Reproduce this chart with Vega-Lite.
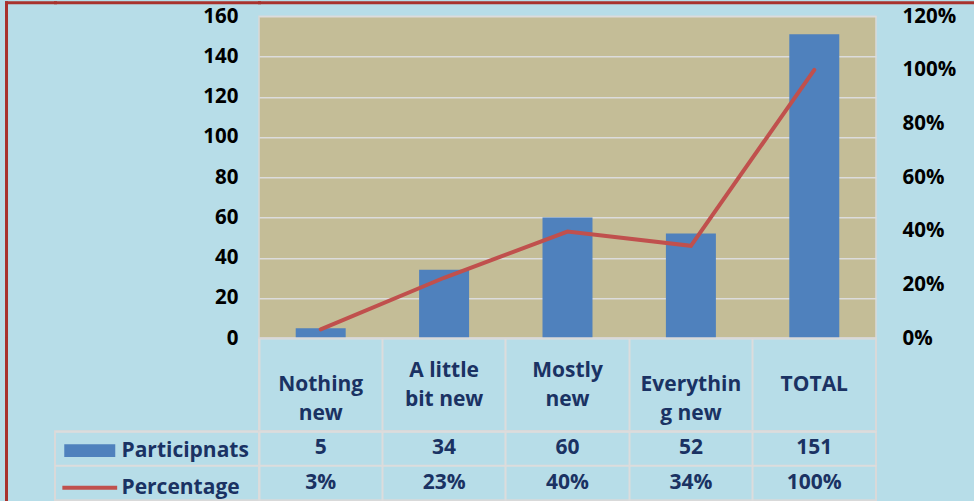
{
  "$schema": "https://vega.github.io/schema/vega-lite/v6.json",
  "background": "#b7dde8",
  "padding": {"left": 3, "top": 2.2, "right": 0, "bottom": 0},
  "config": {
    "view": {"stroke": "#d9d9d9", "strokeWidth": 2},
    "font": "Open Sans",
    "axis": {"labelFont": "Open Sans", "labelFontWeight": "bold", "labelFontSize": 20.5, "labelColor": "#000000", "ticks": false, "domain": false, "title": null}
  },
  "datasets": {
    "survey": [
      {"category": "Nothing new", "label": ["Nothing", "new"], "participants": 5, "percentage": 0.0331},
      {"category": "A little bit new", "label": ["\u2002\u2002A little", "bit new"], "participants": 34, "percentage": 0.2252},
      {"category": "Mostly new", "label": ["\u2002\u2002\u2002Mostly", "new"], "participants": 60, "percentage": 0.3974},
      {"category": "Everything new", "label": ["Everythin", "g new"], "participants": 52, "percentage": 0.3444},
      {"category": "TOTAL", "label": ["TOTAL"], "participants": 151, "percentage": 1.0}
    ],
    "series": [
      {"series": "Participnats"},
      {"series": "Percentage"}
    ],
    "frame": [{"edge": 0}]
  },
  "columns": 3,
  "spacing": 0,
  "bounds": "flush",
  "align": "each",
  "resolve": {"scale": {"x": "independent", "y": "independent", "color": "independent", "shape": "independent"}},
  "concat": [
    {
      "data": {"name": "frame"},
      "width": 49, "height": 13.3,
      "view": {"stroke": null},
      "mark": {"type": "point", "opacity": 0},
      "encoding": {
        "x": {"field": "edge", "type": "quantitative", "scale": {"domain": [0, 1], "padding": 0, "nice": false, "zero": false}, "axis": {"orient": "top", "labels": false, "grid": false, "domain": true, "domainColor": "#a8322d", "domainWidth": 3, "domainCap": "square"}},
        "y": {"field": "edge", "type": "quantitative", "scale": {"domain": [0, 1], "padding": 0, "nice": false, "zero": false}, "axis": {"orient": "left", "labels": false, "grid": false, "domain": true, "domainColor": "#a8322d", "domainWidth": 3, "domainCap": "square"}}
      }
    },
    {
      "data": {"name": "frame"},
      "width": 204, "height": 13.3,
      "view": {"stroke": null},
      "mark": {"type": "point", "opacity": 0},
      "encoding": {
        "x": {"field": "edge", "type": "quantitative", "scale": {"domain": [0, 1], "padding": 0, "nice": false, "zero": false}, "axis": {"orient": "top", "labels": false, "grid": false, "domain": true, "domainColor": "#a8322d", "domainWidth": 3, "domainCap": "square"}}
      }
    },
    {
      "data": {"name": "frame"},
      "width": 715, "height": 13.3,
      "view": {"stroke": null},
      "mark": {"type": "point", "opacity": 0},
      "encoding": {
        "x": {"field": "edge", "type": "quantitative", "scale": {"domain": [0, 1], "padding": 0, "nice": false, "zero": false}, "axis": {"orient": "top", "labels": false, "grid": false, "domain": true, "domainColor": "#a8322d", "domainWidth": 3, "domainCap": "square"}}
      }
    },
    {
      "data": {"name": "frame"},
      "width": 49, "height": 322,
      "view": {"stroke": null},
      "mark": {"type": "point", "opacity": 0},
      "encoding": {
        "y": {"field": "edge", "type": "quantitative", "scale": {"domain": [0, 1], "padding": 0, "nice": false, "zero": false}, "axis": {"orient": "left", "labels": false, "grid": false, "domain": true, "domainColor": "#a8322d", "domainWidth": 3, "domainCap": "square"}}
      }
    },
    {
      "data": {"values": [{}]},
      "width": 204, "height": 322,
      "view": {"stroke": null},
      "mark": {"type": "point", "opacity": 0}
    },
    {
      "data": {"name": "survey"},
      "width": 617, "height": 322,
      "view": {"fill": "#c4bd97", "stroke": "#d9d9d9", "strokeWidth": 1.5},
      "encoding": {
        "x": {"field": "category", "type": "nominal", "sort": null, "scale": {"type": "band", "paddingInner": 0, "paddingOuter": 0}, "axis": null}
      },
      "layer": [
        {
          "mark": {"type": "bar", "color": "#4f81bd", "width": {"band": 0.405}},
          "encoding": {
            "y": {"field": "participants", "type": "quantitative", "scale": {"domain": [0, 160], "nice": false},
                  "axis": {"orient": "left", "values": [0, 20, 40, 60, 80, 100, 120, 140, 160], "grid": true, "gridColor": "#dcdcdc", "gridWidth": 1.5, "labelPadding": 21}}
          }
        },
        {
          "mark": {"type": "line", "color": "#c0504d", "strokeWidth": 4, "strokeCap": "round"},
          "encoding": {
            "x": {"field": "category", "type": "nominal", "sort": null, "bandPosition": 0.5},
            "y": {"field": "percentage", "type": "quantitative", "scale": {"domain": [0, 1.2], "nice": false},
                  "axis": {"orient": "right", "format": ".0%", "values": [0, 0.2, 0.4, 0.6, 0.8, 1.0, 1.2], "grid": false, "labelPadding": 26}}
          }
        }
      ],
      "resolve": {"scale": {"y": "independent"}}
    },
    {
      "data": {"name": "frame"},
      "width": 49, "height": 93,
      "view": {"stroke": null},
      "mark": {"type": "point", "opacity": 0},
      "encoding": {
        "y": {"field": "edge", "type": "quantitative", "scale": {"domain": [0, 1], "padding": 0, "nice": false, "zero": false}, "axis": {"orient": "left", "labels": false, "grid": false, "domain": true, "domainColor": "#a8322d", "domainWidth": 3, "domainCap": "square"}}
      }
    },
    {
      "data": {"values": [{}]},
      "width": 204, "height": 93,
      "view": {"stroke": null},
      "mark": {"type": "point", "opacity": 0}
    },
    {
      "data": {"name": "survey"},
      "width": 617, "height": 93,
      "encoding": {
        "x": {"field": "category", "type": "nominal", "bandPosition": 0.5,
              "scale": {"type": "band", "domain": ["Nothing new", "A little bit new", "Mostly new", "Everything new", "TOTAL"], "paddingInner": 0, "paddingOuter": 0},
              "axis": {"labels": false, "grid": true, "gridColor": "#dcdcdc", "gridWidth": 2, "bandPosition": 0}},
        "text": {"field": "label"}
      },
      "layer": [
        {
          "transform": [{"filter": {"not": {"field": "category", "oneOf": ["A little bit new", "Mostly new"]}}}],
          "mark": {"type": "text", "font": "Open Sans", "fontWeight": "bold", "fontSize": 21, "color": "#1a3263", "lineHeight": 29, "baseline": "middle", "align": "center"}
        },
        {
          "transform": [{"filter": {"field": "category", "oneOf": ["A little bit new", "Mostly new"]}}],
          "mark": {"type": "text", "font": "Open Sans", "fontWeight": "bold", "fontSize": 21, "color": "#1a3263", "lineHeight": 29, "baseline": "line-bottom", "align": "center"}
        }
      ]
    },
    {
      "data": {"name": "frame"},
      "width": 49, "height": 69,
      "view": {"stroke": null},
      "mark": {"type": "point", "opacity": 0},
      "encoding": {
        "y": {"field": "edge", "type": "quantitative", "scale": {"domain": [0, 1], "padding": 0, "nice": false, "zero": false}, "axis": {"orient": "left", "labels": false, "grid": false, "domain": true, "domainColor": "#a8322d", "domainWidth": 3, "domainCap": "square"}}
      }
    },
    {
      "data": {"name": "series"},
      "width": 204, "height": 69,
      "mark": {"type": "point", "filled": true, "opacity": 0},
      "encoding": {
        "y": {"field": "series", "type": "nominal", "scale": {"type": "band", "paddingInner": 0, "paddingOuter": 0},
              "axis": {"labels": false, "grid": true, "gridColor": "#dcdcdc", "gridWidth": 2, "bandPosition": 0}},
        "color": {"field": "series", "type": "nominal",
                  "scale": {"domain": ["Participnats", "Percentage"], "range": ["#4f81bd", "#c0504d"]},
                  "legend": {"title": null, "orient": "none", "legendX": 21.75, "legendY": 6.5, "symbolSize": 650, "symbolOpacity": 1, "symbolStrokeWidth": 0, "labelFont": "Open Sans", "labelFontWeight": "bold", "labelFontSize": 21, "labelColor": "#1a3263", "labelOffset": 18.75, "rowPadding": 14, "padding": 0, "labelLimit": 300}},
        "shape": {"field": "series", "type": "nominal",
                  "scale": {"domain": ["Participnats", "Percentage"], "range": ["M-2,-0.5H2V0.5H-2Z", "M-2.15,-0.16H2.15V0.16H-2.15Z"]},
                  "legend": {"title": null, "orient": "none", "legendX": 21.75, "legendY": 6.5, "symbolSize": 650, "symbolOpacity": 1, "symbolStrokeWidth": 0, "labelFont": "Open Sans", "labelFontWeight": "bold", "labelFontSize": 21, "labelColor": "#1a3263", "labelOffset": 18.75, "rowPadding": 14, "padding": 0, "labelLimit": 300}}
      }
    },
    {
      "data": {"name": "survey"},
      "width": 617, "height": 69,
      "encoding": {
        "x": {"field": "category", "type": "nominal", "sort": null, "bandPosition": 0.5,
              "scale": {"type": "band", "paddingInner": 0, "paddingOuter": 0},
              "axis": {"labels": false, "grid": true, "gridColor": "#dcdcdc", "gridWidth": 2, "bandPosition": 0}}
      },
      "layer": [
        {
          "mark": {"type": "text", "font": "Open Sans", "fontWeight": "bold", "fontSize": 21, "color": "#1a3263", "baseline": "middle", "align": "center"},
          "encoding": {
            "y": {"datum": "Participnats", "type": "nominal", "bandPosition": 0.5,
                  "scale": {"type": "band", "domain": ["Participnats", "Percentage"], "paddingInner": 0, "paddingOuter": 0},
                  "axis": {"labels": false, "grid": true, "gridColor": "#dcdcdc", "gridWidth": 2, "bandPosition": 0}},
            "text": {"field": "participants", "type": "quantitative"}
          }
        },
        {
          "mark": {"type": "text", "font": "Open Sans", "fontWeight": "bold", "fontSize": 21, "color": "#1a3263", "baseline": "middle", "align": "center"},
          "encoding": {
            "y": {"datum": "Percentage", "type": "nominal", "bandPosition": 0.5},
            "text": {"field": "percentage", "type": "quantitative", "format": ".0%"}
          }
        }
      ]
    }
  ]
}
